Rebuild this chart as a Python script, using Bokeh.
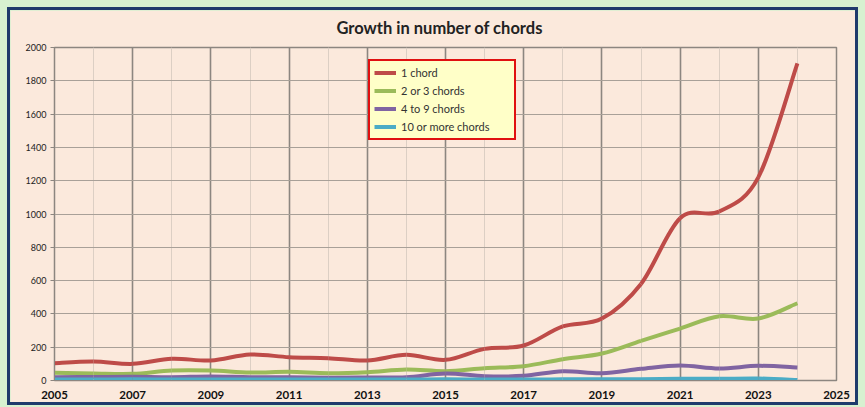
from bokeh.plotting import figure
from bokeh.models import Range1d, FixedTicker, Legend, LegendItem, Title
from bokeh.layouts import column
from bokeh.embed import file_html
from bokeh.resources import INLINE

# ---- data ----
years = list(range(2005, 2025))
one_chord = [104, 114, 100, 131, 120, 156, 140, 134, 120, 154, 124, 190, 210, 325, 372, 580, 975, 1015, 1220, 1905]
two_three = [46, 42, 40, 60, 60, 48, 52, 44, 50, 66, 56, 74, 86, 128, 162, 238, 312, 386, 372, 464]
four_nine = [20, 21, 22, 20, 24, 20, 20, 17, 18, 20, 42, 26, 28, 56, 44, 70, 90, 72, 88, 78]
ten_plus = [6, 6, 7, 6, 6, 6, 6, 6, 6, 6, 7, 6, 6, 7, 8, 8, 10, 10, 12, 3]
series_names = ["1 chord", "2 or 3 chords", "4 to 9 chords", "10 or more chords"]
series_values = [one_chord, two_three, four_nine, ten_plus]
colors = ["#be4b48", "#9bbb59", "#8064a2", "#4bacc6"]
x_major = [2005, 2007, 2009, 2011, 2013, 2015, 2017, 2019, 2021, 2023, 2025]
x_minor = [2006, 2008, 2010, 2012, 2014, 2016, 2018, 2020, 2022, 2024]
y_ticks = list(range(0, 2001, 200))

FONT = "Lato"

p = figure(width=845, height=392, output_backend="svg", toolbar_location=None,
           x_range=Range1d(2005, 2025), y_range=Range1d(0, 2000),
           min_border_left=44, min_border_right=19, min_border_top=37, min_border_bottom=22,
           styles={"outline": "3px solid #1f3a6b"})
p.border_fill_color = "#fbe9dc"
p.background_fill_color = "#fbe9dc"
p.outline_line_color = "#8c8680"
p.outline_line_width = 1.5

title = Title(text="Growth in number of chords", align="left", offset=282,
              standoff=10, text_font=FONT, text_font_size="16.5px",
              text_font_style="bold", text_color="#222222")
spacer = Title(text=" ", text_font_size="1px", standoff=2)
p.above = [spacer, title]

# grids
p.xgrid.ticker = FixedTicker(ticks=x_major, minor_ticks=x_minor)
p.xgrid.grid_line_color = "#8c8680"
p.xgrid.grid_line_width = 1.6
p.xgrid.minor_grid_line_color = "#dccfc4"
p.xgrid.minor_grid_line_width = 1
p.ygrid.ticker = FixedTicker(ticks=y_ticks)
p.ygrid.grid_line_color = "#a8a098"
p.ygrid.grid_line_width = 1.2

# axes
p.xaxis.ticker = FixedTicker(ticks=x_major, minor_ticks=x_minor)
p.xaxis.major_tick_out = 0
p.xaxis.major_tick_in = 0
p.xaxis.minor_tick_out = 0
p.xaxis.minor_tick_in = 0
p.xaxis.axis_line_color = "#8c8680"
p.xaxis.major_label_text_font = FONT
p.xaxis.major_label_text_font_size = "11.5px"
p.xaxis.major_label_text_font_style = "bold"
p.xaxis.major_label_text_color = "#111111"
p.xaxis.major_label_standoff = 10

p.yaxis.ticker = FixedTicker(ticks=y_ticks)
p.yaxis.major_tick_out = 4
p.yaxis.major_tick_in = 0
p.yaxis.minor_tick_out = 0
p.yaxis.major_tick_line_color = "#8c8680"
p.yaxis.axis_line_color = "#8c8680"
p.yaxis.major_label_text_font = FONT
p.yaxis.major_label_text_font_size = "9px"
p.yaxis.major_label_text_color = "#222222"
p.yaxis.major_label_standoff = 4

# smoothed lines (Catmull-Rom as Bezier segments, from the data arrays)
def bezier_parts(xs, ys):
    n = len(xs)
    x0, y0, x1, y1, cx0, cy0, cx1, cy1 = [], [], [], [], [], [], [], []
    for i in range(n - 1):
        xa, ya = xs[max(i - 1, 0)], ys[max(i - 1, 0)]
        xb, yb = xs[i], ys[i]
        xc, yc = xs[i + 1], ys[i + 1]
        xd, yd = xs[min(i + 2, n - 1)], ys[min(i + 2, n - 1)]
        x0.append(xb); y0.append(yb); x1.append(xc); y1.append(yc)
        cx0.append(xb + (xc - xa) / 6.0); cy0.append(yb + (yc - ya) / 6.0)
        cx1.append(xc - (xd - xb) / 6.0); cy1.append(yc - (yd - yb) / 6.0)
    return dict(x0=x0, y0=y0, x1=x1, y1=y1, cx0=cx0, cy0=cy0, cx1=cx1, cy1=cy1)

items = []
for name, vals, col in zip(series_names, series_values, colors):
    d = bezier_parts(years, vals)
    r = p.bezier(x0=d["x0"], y0=d["y0"], x1=d["x1"], y1=d["y1"],
                 cx0=d["cx0"], cy0=d["cy0"], cx1=d["cx1"], cy1=d["cy1"],
                 line_color=col, line_width=4)
    items.append(LegendItem(label=name, renderers=[r]))

legend = Legend(items=items, location=(314, 240))
legend.border_line_color = "#e01010"
legend.border_line_width = 2
legend.border_line_alpha = 1
legend.background_fill_color = "#ffffc8"
legend.background_fill_alpha = 1
legend.label_text_font = FONT
legend.label_text_font_size = "11px"
legend.label_text_color = "#333333"
legend.glyph_width = 22
legend.glyph_height = 15
legend.label_height = 15
legend.label_standoff = 5
legend.spacing = 3
legend.padding = 4
legend.margin = 0
legend.label_width = 109
p.add_layout(legend, "center")

layout = column(p, styles={"background-color": "#d7f1d0", "padding": "10px"})

open("out.html", "w").write(file_html(layout, INLINE))
